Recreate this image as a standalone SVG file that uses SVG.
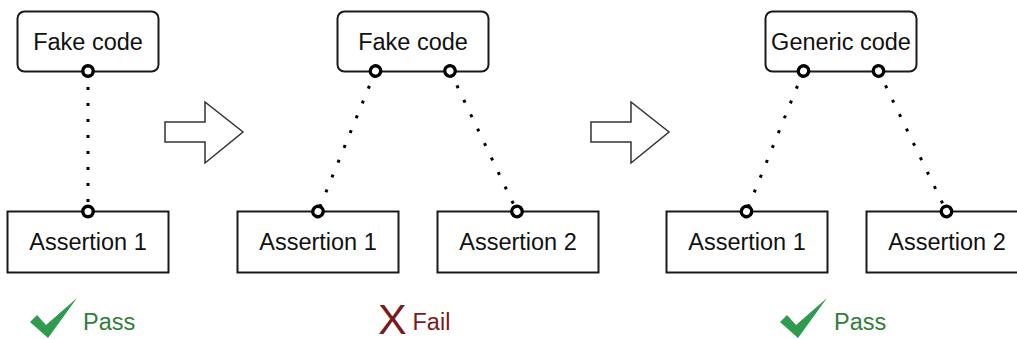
<svg xmlns="http://www.w3.org/2000/svg" width="1017" height="339" viewBox="0 0 1017 339">
<style>
.box{fill:#fff;stroke:#1a1a1a;stroke-width:2}
.lbl{font-family:"Liberation Sans",Arial,sans-serif;font-size:23.5px;fill:#111;text-anchor:middle}
.conn{stroke:#000;stroke-width:3;stroke-dasharray:3 13;fill:none;marker-start:url(#oval);marker-end:url(#oval)}
.blk{fill:#fff;stroke:#333;stroke-width:1.5;stroke-linejoin:miter}
.pass{font-family:"Liberation Sans",Arial,sans-serif;font-size:23.5px;fill:#2f7f3a}
.fail{font-family:"Liberation Sans",Arial,sans-serif;fill:#7b1a1a}
.check{fill:#2e9b4f}
</style>
<defs>
<marker id="oval" markerUnits="userSpaceOnUse" viewBox="0 0 18 18" markerWidth="18" markerHeight="18" refX="9" refY="9" orient="auto">
<circle cx="9" cy="9" r="5.2" fill="#fff" stroke="#000" stroke-width="3.4" stroke-dasharray="none"/>
</marker>
<path id="chk" d="M30,322 L37,315 L46,325 L77,298 L48,338 Z"/>
</defs>

<g id="fake1"><rect class="box" x="17.5" y="11.5" width="141" height="60" rx="7"/><text class="lbl" x="88" y="50">Fake code</text></g>
<g id="assert1a"><rect class="box" x="7.5" y="211.5" width="161" height="61"/><text class="lbl" x="88" y="250">Assertion 1</text></g>

<g id="arrow1"><polygon class="blk" points="165,122 205,122 205,102 243,132 205,163 205,142 165,142"/></g>

<g id="fake2"><rect class="box" x="337.5" y="11.5" width="151" height="60" rx="7"/><text class="lbl" x="413" y="50">Fake code</text></g>
<g id="assert2a"><rect class="box" x="237.5" y="211.5" width="161" height="61"/><text class="lbl" x="318" y="250">Assertion 1</text></g>
<g id="assert2b"><rect class="box" x="437.5" y="211.5" width="161" height="61"/><text class="lbl" x="518" y="250">Assertion 2</text></g>

<g id="arrow2"><polygon class="blk" points="591,122 631,122 631,102 669,132 631,163 631,142 591,142"/></g>

<g id="generic"><rect class="box" x="765.5" y="11.5" width="151" height="60" rx="7"/><text class="lbl" x="841" y="50">Generic code</text></g>
<g id="assert3a"><rect class="box" x="666.5" y="211.5" width="161" height="61"/><text class="lbl" x="747" y="250">Assertion 1</text></g>
<g id="assert3b"><rect class="box" x="866.5" y="211.5" width="161" height="61"/><text class="lbl" x="947" y="250">Assertion 2</text></g>

<g id="result1"><use href="#chk" class="check"/><text class="pass" x="83" y="330">Pass</text></g>
<g id="result2"><text class="fail" x="378" y="334" font-size="43">X</text><text class="fail" x="412.5" y="330" font-size="23.5">Fail</text></g>
<g id="result3"><use href="#chk" class="check" transform="translate(750,0)"/><text class="pass" x="834" y="330">Pass</text></g>

<g id="connectors">
<line class="conn" x1="88" y1="71" x2="88" y2="211.5"/>
<line class="conn" x1="375.5" y1="71" x2="318" y2="211.5"/>
<line class="conn" x1="450" y1="71" x2="517" y2="211.5"/>
<line class="conn" x1="803.5" y1="71" x2="746.5" y2="211.5"/>
<line class="conn" x1="878.5" y1="71" x2="946.5" y2="211.5"/>
</g>
</svg>
